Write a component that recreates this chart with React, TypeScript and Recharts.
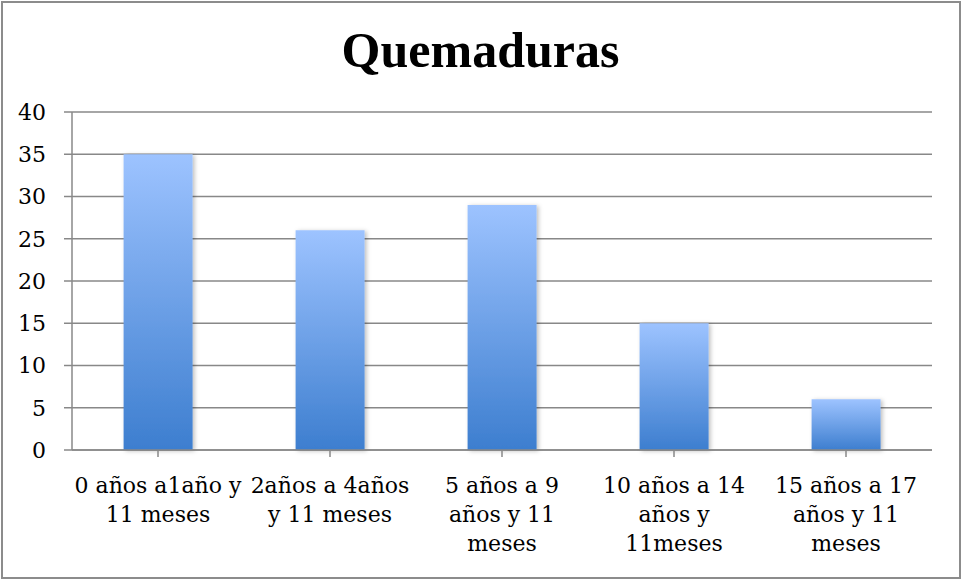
import React from 'react';
import { BarChart, Bar, XAxis, YAxis, CartesianGrid } from 'recharts';

const categories = [
  '0 años a1año y\n11 meses',
  '2años a 4años\ny 11 meses',
  '5 años a 9\naños y 11\nmeses',
  '10 años a 14\naños y\n11meses',
  '15 años a 17\naños y 11\nmeses',
];
const quemaduras = [35, 26, 29, 15, 6];
const yTicks = [0, 5, 10, 15, 20, 25, 30, 35, 40];

const data = categories.map((name, i) => ({ name, value: quemaduras[i] }));

const FONT = '"DejaVu Serif", serif';
const TITLE_FONT = '"Liberation Serif", serif';

const XTick = ({ x, y, payload }: any) => {
  const lines = String(payload.value).split('\n');
  return (
    <text x={x} y={y} textAnchor="middle" fontFamily={FONT} fontSize={22} fill="#000">
      {lines.map((l, i) => (
        <tspan key={i} x={x} dy={i === 0 ? 36 : 29}>{l}</tspan>
      ))}
    </text>
  );
};

export default function App() {
  return (
    <div style={{ position: 'absolute', left: 0, top: 0, width: 961, height: 580, background: '#fff' }}>
      <div
        style={{
          position: 'absolute', left: 1, top: 1, width: 960, height: 578,
          border: '2px solid #8c8c8c', boxSizing: 'border-box',
        }}
      />
      <div
        style={{
          position: 'absolute', left: 0, top: 20, width: 961, textAlign: 'center',
          fontFamily: TITLE_FONT, fontWeight: 'bold', fontSize: 50, lineHeight: '60px', color: '#000',
        }}
      >
        Quemaduras
      </div>
      <div style={{ position: 'absolute', left: 0, top: 0 }}>
        <BarChart
          width={961}
          height={580}
          data={data}
          margin={{ top: 112, right: 29, left: 12, bottom: 10 }}
          barCategoryGap="30%"
        >
          <defs>
            <linearGradient id="barFill" x1="0" y1="0" x2="0" y2="1">
              <stop offset="0%" stopColor="#9dc3ff" />
              <stop offset="100%" stopColor="#3d7ecf" />
            </linearGradient>
            <filter id="barShadow" x="-20%" y="-10%" width="140%" height="120%">
              <feDropShadow dx="2" dy="1" stdDeviation="2" floodColor="#000" floodOpacity="0.25" />
            </filter>
          </defs>
          <CartesianGrid vertical={false} stroke="#888" strokeWidth={1.5} />
          <XAxis
            dataKey="name"
            interval={0}
            height={120}
            tickSize={7}
            tickMargin={0}
            tickLine={{ stroke: '#888', strokeWidth: 1.5 }}
            axisLine={{ stroke: '#888', strokeWidth: 1.5 }}
            tick={<XTick />}
          />
          <YAxis
            domain={[0, 40]}
            ticks={yTicks}
            interval={0}
            width={60}
            tickSize={8}
            tickMargin={18}
            tickLine={{ stroke: '#888', strokeWidth: 1.5 }}
            axisLine={{ stroke: '#888', strokeWidth: 1.5 }}
            tick={{ fontFamily: FONT, fontSize: 22, fill: '#000' }}
          />
          <Bar dataKey="value" fill="url(#barFill)" filter="url(#barShadow)" isAnimationActive={false} />
        </BarChart>
      </div>
    </div>
  );
}
